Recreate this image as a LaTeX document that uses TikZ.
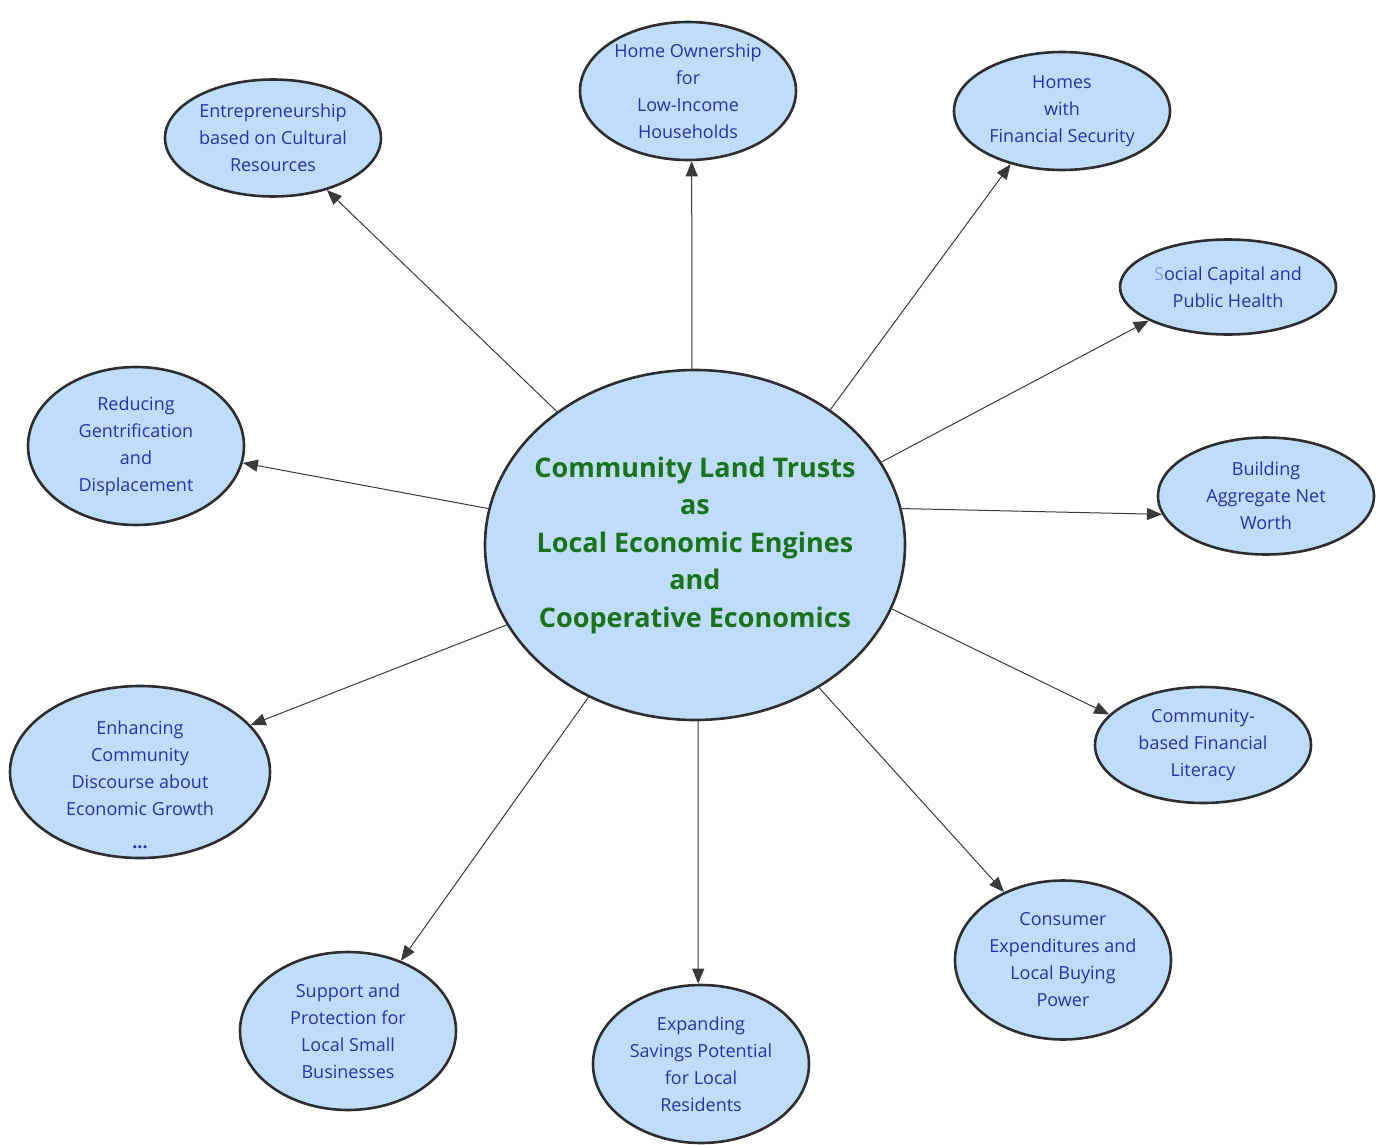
\documentclass[tikz,border=0pt]{standalone}
\usepackage{fontspec}
\setmainfont{Open Sans}
\usepackage{tikz}
\usetikzlibrary{arrows.meta,shapes.geometric}

\definecolor{bubblefill}{HTML}{BFDDFB}
\definecolor{bubbleedge}{HTML}{2E2E2E}
\definecolor{leaftext}{HTML}{2A2FB0}
\definecolor{hubtext}{HTML}{1A731A}
\definecolor{linkgray}{HTML}{3A3A3A}
\definecolor{faintS}{HTML}{8FA0E0}

\begin{document}
\begin{tikzpicture}[x=1pt, y=-1pt, >={Triangle[length=15pt,width=12pt]},
  bubble/.style={ellipse, draw=bubbleedge, fill=bubblefill, line width=2.6pt, inner sep=0pt, align=center},
  leaf/.style={bubble, minimum width=216pt, text=leaftext, font=\fontsize{18}{27}\selectfont},
  hub/.style={bubble, minimum width=420pt, minimum height=350pt, inner xsep=-30pt, text=hubtext, font=\fontsize{27}{37.5}\selectfont\bfseries},
  link/.style={->, draw=linkgray, line width=1pt}]
\useasboundingbox (0,0) rectangle (1387,1145);

\node[hub] (clt) at (695,545) {Community Land Trusts\\as\\Local Economic Engines\\and\\Cooperative Economics};

\node[leaf, minimum height=117pt] (culture) at (273,138) {Entrepreneurship\\based on Cultural\\Resources};
\node[leaf, minimum height=138pt] (owner) at (688,91) {Home Ownership\\for\\Low-Income\\Households};
\node[leaf, minimum height=118pt] (secure) at (1062,111) {Homes\\with\\Financial Security};
\node[leaf, minimum height=95pt] (social) at (1228,287) {{\color{faintS}S}ocial Capital and\\Public Health};
\node[leaf, minimum height=117pt] (worth) at (1266,496) {Building\\Aggregate Net\\Worth};
\node[leaf, minimum height=116pt] (literacy) at (1203,745) {Community-\\based Financial\\Literacy};
\node[leaf, minimum height=159pt] (buying) at (1063,960) {Consumer\\Expenditures and\\Local Buying\\Power};
\node[leaf, minimum height=158pt] (savings) at (701,1064) {Expanding\\Savings Potential\\for Local\\Residents};
\node[leaf, minimum height=158pt] (business) at (348,1031) {Support and\\Protection for\\Local Small\\Businesses};
\node[leaf, minimum width=260pt, minimum height=172pt, inner ysep=-42pt] (discourse) at (140,772) {\rule{0pt}{39pt}Enhancing\\Community\\Discourse about\\Economic Growth\\[6pt]\textbf{...}};
\node[leaf, minimum height=158pt] (gentrify) at (136,446) {Reducing\\Gentrification\\and\\Displacement};

% spokes out of the hub
\draw[link] (clt.136) -- (culture.316);
\draw[link] (clt.91) -- (owner.273);
\draw[link] (clt.45.4) -- (secure.226);
\draw[link] (clt.24.7) -- (social.203);
\draw[link] (clt.10) -- (worth.190);
\draw[link] (clt.342.6) -- (literacy.162);
\draw[link] (clt.311.6) -- (buying.131.4);
\draw[link] (clt.271) -- (savings.92);
\draw[link] (clt.235) -- (business.53.8);
\draw[link] (clt.203.3) -- (discourse.23.2);
\draw[link] (clt.170) -- (gentrify.351);
\end{tikzpicture}
\end{document}
